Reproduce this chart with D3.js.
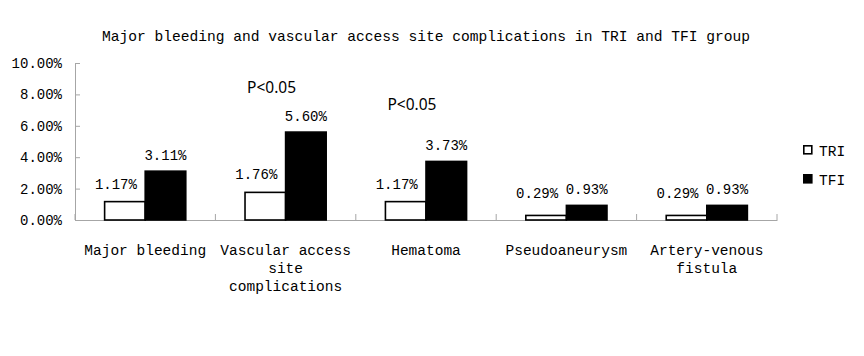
<!DOCTYPE html>
<html>
<head>
<meta charset="utf-8">
<script src="https://cdn.jsdelivr.net/npm/d3@7"></script>
<style>
  body { margin: 0; background: #fff; }
  svg text { font-family: "Liberation Mono", monospace; fill: #000; }
</style>
</head>
<body>
<div id="chartDiv"></div>
<script>
// chart values
const categories = ["Major bleeding", "Vascular access site complications", "Hematoma", "Pseudoaneurysm", "Artery-venous fistula"];
const seriesNames = ["TRI", "TFI"];
const triValues = [0.0117, 0.0176, 0.0117, 0.0029, 0.0029];
const tfiValues = [0.0311, 0.0560, 0.0373, 0.0093, 0.0093];
const yTicks = [0, 0.02, 0.04, 0.06, 0.08, 0.10];
const pCategories = ["Vascular access site complications", "Hematoma"];
const pLevels = [0.081, 0.070];
const pText = "P<0.05";
const title = "Major bleeding and vascular access site complications in TRI and TFI group";

const width = 864, height = 356;
const margin = {top: 63, right: 87, bottom: 136, left: 75};

const svg = d3.select("#chartDiv").append("svg")
    .attr("width", width)
    .attr("height", height)
    .attr("viewBox", [0, 0, width, height]);

svg.append("rect").attr("width", width).attr("height", height).attr("fill", "#fff");

const x = d3.scaleBand()
    .domain(categories)
    .range([margin.left, width - margin.right])
    .paddingInner(0).paddingOuter(0);

const x1 = d3.scaleBand()
    .domain(seriesNames)
    .range([0, x.bandwidth()])
    .paddingInner(0).paddingOuter(0.73);

const y = d3.scaleLinear()
    .domain([0, 0.10])
    .range([height - margin.bottom, margin.top]);

const fmt = d3.format(".2%");

// title
svg.append("text")
    .attr("x", (margin.left + width - margin.right) / 2)
    .attr("y", 41)
    .attr("text-anchor", "middle")
    .style("font-size", "14.6px")
    .text(title);

// y axis, ticks pointing inward
const yAxis = svg.append("g")
    .attr("transform", `translate(${margin.left},0)`)
    .call(d3.axisLeft(y).tickValues(yTicks).tickFormat(fmt)
      .tickSizeInner(-5).tickSizeOuter(0).tickPadding(13));
yAxis.select(".domain").attr("stroke", "#a6a6a6");
yAxis.selectAll(".tick line").attr("stroke", "#a6a6a6");
yAxis.selectAll(".tick text")
    .style("font-size", "14px")
    .style("font-family", "Liberation Mono, monospace")
    .attr("fill", "#000");

// x axis: baseline + category boundary ticks
const xAxis = svg.append("g")
    .attr("transform", `translate(0,${y(0)})`)
    .call(d3.axisBottom(x).tickSize(0).tickPadding(0).tickFormat(""));
xAxis.select(".domain").attr("stroke", "#a6a6a6");

const bounds = categories.map(c => x(c)).concat([x.range()[1]]);
xAxis.selectAll(".bound")
  .data(bounds)
  .join("line")
    .attr("class", "bound")
    .attr("x1", d => d).attr("x2", d => d)
    .attr("y1", 0).attr("y2", -6)
    .attr("stroke", "#a6a6a6");

// category labels, wrapped at 16 characters
function wrap(s, maxChars) {
  const words = s.split(" ");
  const lines = [];
  let cur = "";
  words.forEach(w => {
    const t = cur ? cur + " " + w : w;
    if (t.length > maxChars && cur) { lines.push(cur); cur = w; }
    else cur = t;
  });
  if (cur) lines.push(cur);
  return lines;
}

const catLabels = svg.append("g")
  .selectAll("text")
  .data(categories)
  .join("text")
    .attr("text-anchor", "middle")
    .style("font-size", "14.5px")
    .attr("transform", d => `translate(${x(d) + x.bandwidth() / 2},${y(0) + 35})`);
catLabels.selectAll("tspan")
  .data(d => wrap(d, 16))
  .join("tspan")
    .attr("x", 0)
    .attr("y", (d, i) => i * 18)
    .text(d => d);

// bars
const rows = categories.map((c, i) => ({category: c, TRI: triValues[i], TFI: tfiValues[i]}));

const groups = svg.append("g")
  .selectAll("g")
  .data(rows)
  .join("g")
    .attr("transform", d => `translate(${x(d.category)},0)`);

groups.selectAll("rect")
  .data(d => seriesNames.map(k => ({key: k, value: d[k]})))
  .join("rect")
    .attr("x", d => x1(d.key))
    .attr("y", d => y(d.value))
    .attr("width", x1.bandwidth())
    .attr("height", d => y(0) - y(d.value))
    .attr("fill", d => d.key === "TRI" ? "#fff" : "#000")
    .attr("stroke", "#000")
    .attr("stroke-width", 1.6);

// value labels
groups.selectAll(".val")
  .data(d => seriesNames.map(k => ({key: k, value: d[k]})))
  .join("text")
    .attr("class", "val")
    .attr("text-anchor", "middle")
    .style("font-size", "14px")
    .attr("x", d => x1(d.key) + x1.bandwidth() / 2 + (d.key === "TRI" ? -9 : 0))
    .attr("y", d => d.key === "TRI"
        ? Math.min(y(d.value) - 13, y(0) - 22)
        : y(d.value) - 11)
    .text(d => fmt(d.value));

// P-value annotations
svg.append("g")
  .selectAll("text")
  .data(pCategories.map((c, i) => ({category: c, level: pLevels[i]})))
  .join("text")
    .attr("text-anchor", "middle")
    .style("font-family", "'Noto Sans', sans-serif")
    .style("font-size", "15.5px")
    .attr("x", d => x(d.category) + x.bandwidth() * 0.4)
    .attr("y", d => y(d.level))
    .text(pText);

// legend
const legend = svg.append("g")
  .selectAll("g")
  .data(seriesNames)
  .join("g")
    .attr("transform", (d, i) => `translate(803,${145 + i * 29})`);
legend.append("rect")
    .attr("x", 0.8).attr("y", 0.8)
    .attr("width", 8).attr("height", 8)
    .attr("fill", d => d === "TRI" ? "#fff" : "#000")
    .attr("stroke", "#000")
    .attr("stroke-width", 1.6);
legend.append("text")
    .attr("x", 16)
    .attr("y", 11)
    .style("font-size", "14.5px")
    .text(d => d);
</script>
</body>
</html>
